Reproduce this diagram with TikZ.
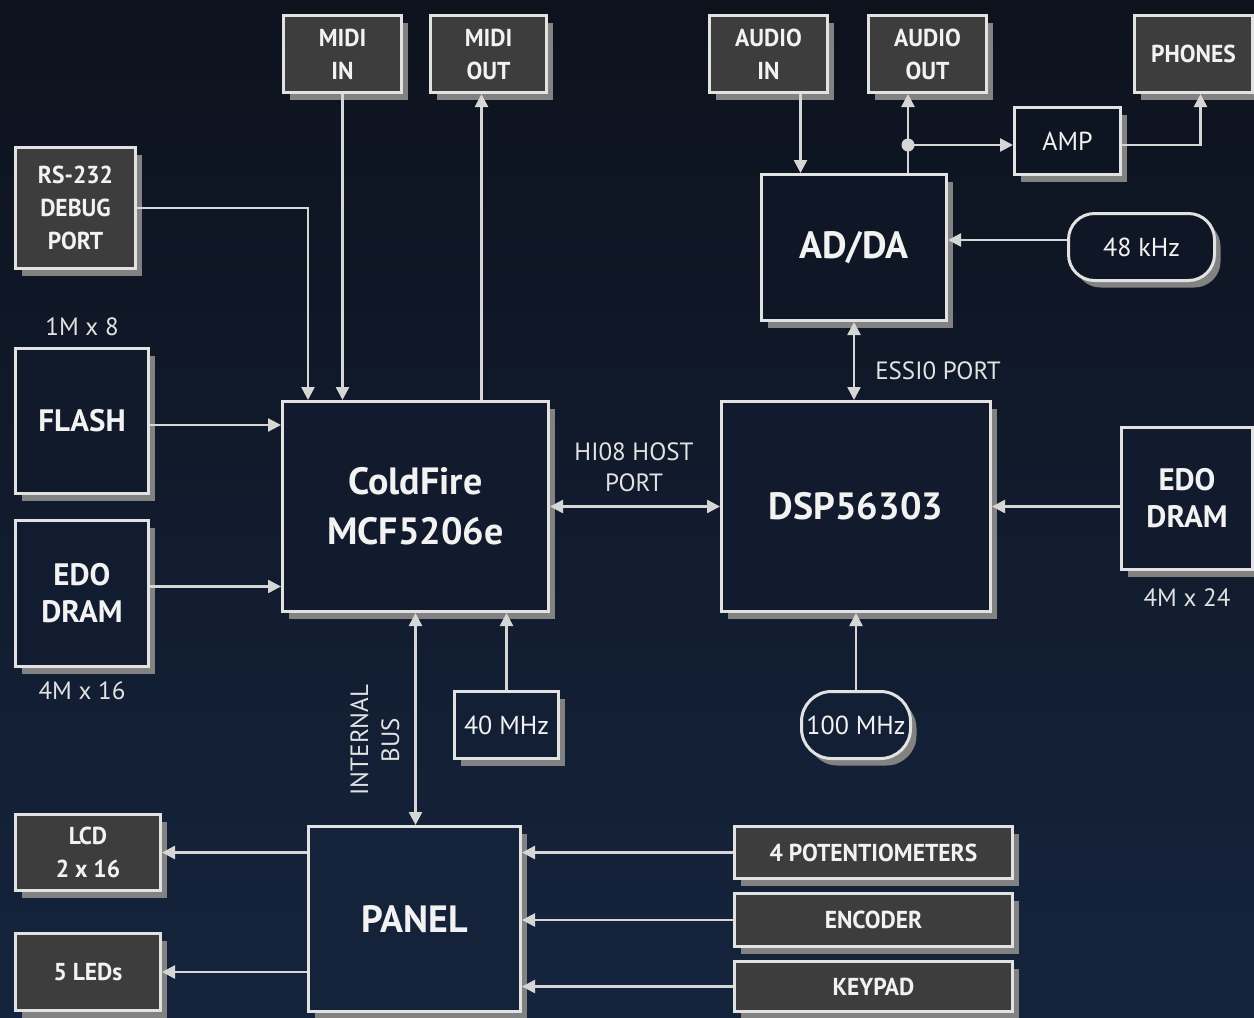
\documentclass[tikz,border=0pt]{standalone}
\usepackage{fontspec}
\setmainfont{PT Sans}
\newfontfamily\narrowsf{PT Sans}[FakeStretch=0.96]
\usetikzlibrary{arrows.meta,calc,positioning,shadows}
\definecolor{NightTop}{RGB}{13,18,29}
\definecolor{NightLow}{RGB}{21,36,61}
\definecolor{Slate}{RGB}{61,61,61}
\definecolor{Rim}{RGB}{226,226,226}
\definecolor{Wire}{RGB}{214,214,214}
\definecolor{Shade}{RGB}{130,130,130}
\definecolor{Ink}{RGB}{242,242,242}
\tikzset{
  box/.style={draw=Rim,line width=3pt,text=Ink,align=center,inner sep=0pt,
    drop shadow={shadow xshift=6pt,shadow yshift=-7pt,fill=Shade,opacity=1}},
  port/.style={box,fill=Slate,font=\narrowsf\bfseries\fontsize{24.5}{33}\selectfont},
  chip/.style={box,fill=NightLow!#1!NightTop},
  big/.style={font=\fontsize{38}{50}\selectfont\bfseries},
  mid/.style={font=\fontsize{31}{37}\selectfont\bfseries},
  thin/.style={font=\fontsize{26}{31}\selectfont},
  note/.style={text=Rim,align=center,font=\fontsize{25}{31}\selectfont},
  wire/.style={draw=Wire,line width=2.5pt,-{Triangle[length=13pt,width=13pt]}},
  bus/.style={wire,{Triangle[length=13pt,width=13pt]}-{Triangle[length=13pt,width=13pt]}}
}

\begin{document}
\begin{tikzpicture}[x=1pt,y=-1pt]
  \useasboundingbox (0,0) rectangle (1254,1018);
  \clip (0,0) rectangle (1254,1018);
  \shade[top color=NightTop,bottom color=NightLow] (0,0) rectangle (1254,1018);

  % outer ports
  \node[port,minimum width=118pt,minimum height=77pt] (midiin) at (342.5,54) {MIDI\\IN};
  \node[port,minimum width=116pt,minimum height=77pt] (midiout) at (488.5,54) {MIDI\\OUT};
  \node[port,minimum width=118pt,minimum height=77pt] (audioin) at (768.5,54) {AUDIO\\IN};
  \node[port,minimum width=118pt,minimum height=77pt] (audioout) at (927.5,54) {AUDIO\\OUT};
  \node[port,minimum width=118pt,minimum height=77pt] (phones) at (1193.5,54) {PHONES};
  \node[port,minimum width=120pt,minimum height=121pt] (rs232) at (75.5,208) {RS-232\\DEBUG\\PORT};
  \node[port,minimum width=145pt,minimum height=76pt] (lcd) at (88,852.5) {LCD\\2 x 16};
  \node[port,minimum width=145pt,minimum height=77pt] (leds) at (88,972) {5 LEDs};
  \node[port,minimum width=278pt,minimum height=52pt] (pots) at (873.5,852.5) {4 POTENTIOMETERS};
  \node[port,minimum width=278pt,minimum height=53pt] (enc) at (873.5,920) {ENCODER};
  \node[port,minimum width=278pt,minimum height=50pt] (keypad) at (873.5,986.5) {KEYPAD};

  % chips
  \node[chip=15,thin,minimum width=106pt,minimum height=67pt] (amp) at (1067.5,141) {AMP};
  \node[chip=27,big,minimum width=185pt,minimum height=146pt] (adda) at (854,247.5) {AD/DA};
  \node[chip=27,thin,rounded corners=26pt,minimum width=146pt,minimum height=67pt] (khz48) at (1141.5,247) {48 kHz};
  \node[chip=42,mid,minimum width=133pt,minimum height=145pt] (flash) at (82,421) {FLASH};
  \node[chip=58,mid,minimum width=133pt,minimum height=146pt] (edoL) at (82,593.5) {EDO\\DRAM};
  \node[chip=50,big,minimum width=266pt,minimum height=210pt] (cf) at (415.5,506.5) {ColdFire\\MCF5206e};
  \node[chip=50,big,minimum width=269pt,minimum height=210pt] (dsp) at (856,506.5) {DSP56303};
  \node[chip=49,mid,minimum width=131pt,minimum height=142pt] (edoR) at (1187,498.5) {EDO\\DRAM};
  \node[chip=71,thin,minimum width=104pt,minimum height=67pt] (mhz40) at (506.5,725) {40 MHz};
  \node[chip=71,thin,rounded corners=30pt,minimum width=109pt,minimum height=67pt] (mhz100) at (856,725) {100 MHz};
  \node[chip=90,big,minimum width=212pt,minimum height=185pt] (panel) at (414.5,919) {PANEL};

  % captions
  \node[note] (cap1) at (82,327) {1M x 8};
  \node[note] (cap2) at (82,691) {4M x 16};
  \node[note] (cap3) at (1187,598) {4M x 24};
  \node[note] (hostlbl) at (634,467) {HI08 HOST\\PORT};
  \node[note] (essilbl) at (938,371) {ESSI0 PORT};
  \node[note,rotate=90] (buslbl) at (375,740) {INTERNAL\\BUS};

  % connections
  \draw[wire] (rs232.east) -| ([xshift=27pt]cf.north west);
  \draw[wire] (midiin.south) -- (midiin.south |- cf.north);
  \draw[wire] ([xshift=-7pt]midiout.south |- cf.north) -- ([xshift=-7pt]midiout.south);
  \draw[wire] ([yshift=-4pt]flash.east) -- ([yshift=-4pt]flash.east -| cf.west);
  \draw[wire] ([yshift=7pt]edoL.east) -- ([yshift=7pt]edoL.east -| cf.west);
  \draw[bus] (cf.east) -- (dsp.west);
  \draw[bus] (adda.south) -- (adda.south |- dsp.north);
  \draw[wire] ([xshift=32pt]audioin.south) -- ([xshift=32pt]audioin.south |- adda.north);
  \coordinate (tap) at (908,145);
  \draw[wire] (tap |- adda.north) -- (tap |- audioout.south);
  \draw[wire] (tap) -- (tap -| amp.west);
  \fill[Wire] (tap) circle (6.5pt);
  \draw[wire] (tap -| amp.east) -| ([xshift=7pt]phones.south);
  \draw[wire] ([yshift=7pt]khz48.west) -- ([yshift=7pt]khz48.west -| adda.east);
  \draw[wire] (edoR.west |- dsp.east) -- (dsp.east);
  \draw[wire] (mhz100.north) -- (mhz100.north |- dsp.south);
  \draw[wire] (mhz40.north) -- (mhz40.north |- cf.south);
  \draw[bus] (cf.south) -- (cf.south |- panel.north);
  \foreach \n in {lcd,leds}
    \draw[wire] (\n.east -| panel.west) -- (\n.east);
  \foreach \n in {pots,enc,keypad}
    \draw[wire] (\n.west) -- (\n.west -| panel.east);
\end{tikzpicture}
\end{document}
